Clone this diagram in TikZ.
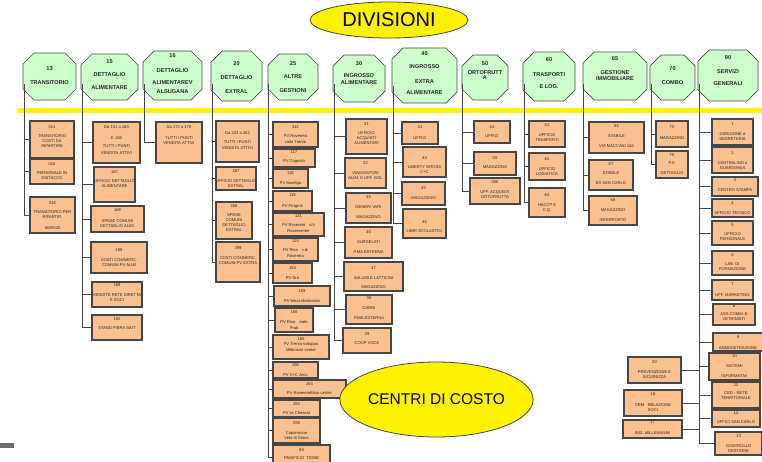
\documentclass[tikz,border=0pt]{standalone}
\usepackage{fontspec}
\setmainfont{Liberation Sans}
\usetikzlibrary{shapes.geometric}
\definecolor{hgreen}{RGB}{204,255,204}
\definecolor{borange}{RGB}{250,192,144}
\definecolor{dgray}{RGB}{70,70,70}
\tikzset{
 hdrst/.style={draw=dgray, line width=0.7, fill=hgreen},
 htxt/.style={align=center, inner sep=0, font={\fontsize{5.6}{12}\selectfont\bfseries}, text=black!85},
 boxst/.style={draw=dgray, line width=1.1, fill=borange, inner sep=0, outer sep=0},
 btxt/.style={align=center, inner sep=0, font={\fontsize{4.1}{5}\selectfont}, text=black!85},
 ln/.style={draw=dgray, line width=0.7},
 ell/.style={ellipse, draw=dgray, line width=0.8, fill=yellow, inner sep=0}
}
% header: name x1 y1 x2 y2 texty text
\newcommand\mkhdr[7]{%
 \filldraw[hdrst] (#2+11,#3) -- (#4-11,#3) -- (#4,#3+11) -- (#4,#5-11) -- (#4-11,#5) -- (#2+11,#5) -- (#2,#5-11) -- (#2,#3+11) -- cycle;
 \node[htxt] (#1) at ({(#2+#4)/2},#6) {#7};}
% box: name x1 y1 x2 y2 texty text
\newcommand\mkbox[7]{%
 \node[boxst, minimum width={#4-#2}, minimum height={#5-#3}] (#1) at ({(#2+#4)/2},{(#3+#5)/2}) {};
 \node[btxt] (#1t) at ({(#2+#4)/2},#6) {#7};}
\begin{document}
\begin{tikzpicture}[x=1pt,y=-1pt]
\useasboundingbox (0,0) rectangle (762,461);
% title ellipses
\node[ell, minimum width=158, minimum height=36] (div) at (389,20) {\fontsize{20}{20}\selectfont DIVISIONI};
% yellow bar
\fill[yellow] (18,108) rectangle (762,113);
% headers
\mkhdr{h13}{23}{53}{76}{100}{76}{13\\[2pt]TRANSITORIO}
\mkhdr{h15}{81}{54}{138}{100}{75}{15\\[1pt]DETTAGLIO\\[1pt]ALIMENTARE}
\mkhdr{h16}{143}{51}{202}{100}{74}{16\\[3pt]DETTAGLIO\\ALIMENTAREV\\[-3pt]ALSUGANA}
\mkhdr{h20}{211}{51}{262}{101}{78}{20\\[2pt]DETTAGLIO\\[2pt]EXTRAL}
\mkhdr{h25}{268}{54}{318}{100}{77.5}{25\\[1pt]ALTRE\\[2pt]GESTIONI}
\mkhdr{h30}{333}{55}{385}{102}{73.5}{30\\INGROSSO\\[-5pt]ALIMENTARE}
\mkhdr{h40}{392}{48}{457}{103}{73.5}{40\\[1pt]INGROSSO\\[3pt]EXTRA\\[-1pt]ALIMENTARE}
\mkhdr{h50}{462}{55}{508}{100}{71}{50\\[-3pt]ORTOFRUTT\\[-7pt]A}
\mkhdr{h60}{523}{52}{575}{101}{73.5}{60\\[3pt]TRASPORTI\\E LOG.}
\mkhdr{h65}{583}{52}{647}{100}{69}{65\\[2pt]GESTIONE\\[-6pt]IMMOBILIARE}
\mkhdr{h70}{650}{55}{695}{100}{76}{70\\[2pt]COMBO}
\mkhdr{h90}{698}{50}{758}{101}{71}{90\\[2pt]SERVIZI\\GENERALI}
% column 13
\mkbox{c014}{30}{121}{74}{158}{136.5}{014\\[4pt]TRANSITORIO\\COSTI DA\\RIPARTIRE}
\mkbox{c015}{30}{159}{74}{184}{171}{015\\[4pt]PERSONALE IN\\DISTACCO}
\mkbox{c016}{30}{197}{75}{233}{215.5}{016\\[4pt]TRANSITORIO PER\\RIPARTIR.\\[6pt]SERVIZI}
% column 15
\mkbox{c15a}{93}{122}{140}{163}{140}{Da 101 a 160\\[6pt]E 198\\[3pt]TUTTI I PUNTI\\[2pt]VENDITA ATTIVI}
\mkbox{c167}{94}{167}{135}{202}{179}{167\\[4pt]UFFICIO DETTAGLIO\\ALIMENTARE}
\mkbox{c168}{91}{206}{144}{232}{218}{168\\[6pt]SPESE COMUNI\\DETTAGLIO ALIM.}
\mkbox{c199}{91}{242}{147}{273}{257.5}{199\\[5pt]COSTI COMMERC.\\COMUNI PV ALIM}
\mkbox{c169}{92}{282}{142}{307}{292.5}{169\\[5pt]VENDITE RETE DIRETTA\\E SOCI}
\mkbox{c192}{92}{315}{142}{340}{323.5}{192\\[4pt]STAND FIERA SAIT}
% column 16
\mkbox{c16a}{156}{122}{202}{163}{135}{Da 172 a 178\\[6pt]TUTTI I PUNTI\\VENDITA ATTIVI}
% column 20
\mkbox{c20a}{216}{121}{259}{162}{140.5}{Da 233 a 262\\[4pt]TUTTI I PUNTI\\[1pt]VENDITA ATTIVI}
\mkbox{c267}{216}{167}{256}{190}{178.5}{267\\[5pt]UFFICIO DETTAGLIO\\EXTRAL}
\mkbox{c268}{216}{202}{252}{239}{218.5}{268\\[4pt]SPESE\\COMUNI\\DETTAGLIO\\EXTRAL}
\mkbox{c299}{216}{242}{260}{282}{255.5}{299\\[5pt]COSTI COMMERC.\\COMUNI PV EXTRA}
% column 25
\mkbox{c112}{273}{122}{318}{147}{134.5}{112\\[4pt]PV Rovereto\\[1pt]viale Trento}
\mkbox{c117}{273}{149}{315}{167}{157.5}{117\\[4pt]PV Cognola}
\mkbox{c118}{273}{169}{308}{188}{178}{118\\[5pt]PV Baselga}
\mkbox{c119}{273}{191}{312}{211}{200.5}{119\\[6pt]PV Pergine}
\mkbox{c121}{273}{213}{324}{236}{223.5}{121\\[4pt]PV Rovereto\quad c/o\\[1pt]Rovercenter}
\mkbox{c124}{273}{238}{318}{261}{248.5}{124\\[4pt]PV Riva\quad v.le\\[1pt]Rovereto}
\mkbox{c153}{273}{263}{312}{283}{273}{153\\[5pt]PV Dro}
\mkbox{c159}{274}{286}{330}{306}{296}{159\\[5pt]PV Mezzolombardo}
\mkbox{c160}{275}{308}{313}{332}{320}{160\\[5pt]PV Riva\quad viale\\[1pt]Prati}
\mkbox{c165}{273}{335}{329}{359}{344.5}{165\\PV Trento sviluppo\\[1pt]Millenium center}
\mkbox{c195}{273}{362}{318}{378}{370}{195\\[5pt]PV C+C Arco}
\mkbox{c264}{273}{380}{346}{398}{388.5}{264\\[4pt]PV RoveretoBrico center}
\mkbox{c265}{273}{400}{320}{417}{408.5}{265\\[4pt]PV ss Chesani}
\mkbox{c298}{273}{418}{320}{443}{430.5}{298\\[5pt]Capannone\\Vela di Giovo}
\mkbox{c88}{273}{445}{330}{470}{454}{88\\[3pt]PANIFICIO\ \ TIONE}
% column 30
\mkbox{c31}{346}{119}{387}{154}{133.5}{31\\[4pt]UFFICIO\\ACQUISTI\\ALIMENTARI}
\mkbox{c32}{345}{158}{386}{188}{170.5}{32\\[5pt]VIAGGIATORI\\ALIM. E UFF. GOL}
\mkbox{c35}{346}{193}{391}{223}{207}{35\\[5pt]GENERI VARI\\[5pt]MAGAZZINO}
\mkbox{c36}{345}{227}{392}{258}{242}{36\\[5pt]SURGELATI\\[5pt]P.MA ESTERNA}
\mkbox{c37}{344}{262}{403}{291}{277.5}{37\\[5pt]SALUMI E LATTICINI\\[4pt]MAGAZZINO}
\mkbox{c38}{346}{295}{392}{324}{308}{38\\[5pt]CARNI\\[5pt]P.MA ESTERNA}
\mkbox{c39}{343}{328}{391}{353}{338.5}{39\\[4pt]COOP VOCE}
% column 40
\mkbox{c41}{402}{122}{438}{144}{132.5}{41\\[6pt]UFFICI}
\mkbox{c44}{403}{147}{446}{177}{165}{44\\[4pt]LIBERTY GROSS\\C+C}
\mkbox{c45}{402}{182}{445}{205}{193}{45\\[5pt]MAGAZZINO}
\mkbox{c46}{403}{209}{446}{238}{226.5}{46\\[4pt]LIBRI SCOLASTICI}
% column 50
\mkbox{c54}{474}{121}{510}{143}{131.5}{54\\[4pt]UFFICI}
\mkbox{c55}{474}{152}{516}{175}{162.5}{55\\[4pt]MAGAZZINO}
\mkbox{c056}{470}{178}{520}{204}{189.5}{056\\[5pt]UFF. ACQUISTI\\ORTOFRUTTA}
% column 60
\mkbox{c61}{529}{121}{565}{147}{132.5}{61\\[5pt]UFFICIO\\TRASPORTI}
\mkbox{c62}{529}{153}{565}{180}{166.5}{62\\[5pt]UFFICIO\\LOGISTICA}
\mkbox{c63}{529}{188}{565}{217}{202.5}{63\\[5pt]HACCP E\\C.Q.}
% column 65
\mkbox{c66}{589}{122}{644}{153}{136}{66\\[5pt]STABILE\\[5pt]VIA MACCANI 162}
\mkbox{c67}{589}{160}{633}{190}{173.5}{67\\[4pt]STABILE\\[5pt]EX SAN CARLO}
\mkbox{c68}{589}{196}{637}{225}{210}{68\\[5pt]MAGAZZINO\\[5pt]INTERPORTO}
% column 70
\mkbox{c75}{656}{121}{688}{147}{132.5}{75\\[6pt]MAGAZZINO}
\mkbox{c78}{656}{151}{688}{178}{164}{78\\[3pt]P.V.\\[5pt]DETTAGLIO}
% column 90
\mkbox{s1}{712}{119}{753}{145}{132}{1\\[5pt]DIREZIONE e\\SEGRETERIA}
\mkbox{s2}{712}{147}{753}{173}{160.5}{2\\[5pt]CENTRALINO e\\GUARDIANIA}
\mkbox{s3}{712}{177}{758}{196}{185}{3\\[5pt]CENTRO STAMPA}
\mkbox{s4}{712}{199}{753}{217}{208}{4\\[5pt]UFFICIO TECNICO}
\mkbox{s5}{712}{221}{753}{245}{232}{5\\[4pt]UFFICIO\\PERSONALE}
\mkbox{s6}{712}{251}{753}{275}{262}{6\\[4pt]LAB. DI\\FORMAZIONE}
\mkbox{s7}{712}{280}{753}{300}{289.5}{7\\[6pt]UFF. MARKETING}
\mkbox{s8}{713}{304}{755}{325}{313}{8\\[3pt]ASS.COMM. E\\VETRINISTI}
\mkbox{s9}{713}{333}{763}{351}{342.5}{9\\[6pt]AMMINISTRAZIONE}
\mkbox{s10}{709}{353}{760}{380}{366}{10\\[5pt]SISTEMI\\[5pt]INFORMATIVI}
\mkbox{s11}{712}{382}{760}{408}{391.5}{11\\[3pt]CED - RETE\\TERRITORIALE}
\mkbox{s12}{712}{410}{760}{427}{417.5}{12\\[4pt]UFFICI SAN CARLO}
\mkbox{s13}{715}{432}{762}{455}{444}{13\\[5pt]CONTROLLO\\GESTIONE}
\mkbox{s20}{628}{357}{681}{383}{369.5}{20\\[5pt]PREVENZIONE E\\SICUREZZA}
\mkbox{s18}{624}{390}{682}{416}{402}{18\\[6pt]CRM\ \ \ RELAZIONE\\SOCI}
\mkbox{s17}{623}{420}{682}{438}{427.5}{17\\[6pt]INIZ. MILLENNIUM}
% trunks
\coordinate (t13) at (24,84);
\coordinate (t15) at (82,84);
\coordinate (t16) at (144,84);
\coordinate (t20) at (212,84);
\coordinate (t25) at (268,84);
\coordinate (t30) at (334,84);
\coordinate (t40) at (393,86);
\coordinate (t50) at (462,84);
\coordinate (t60) at (524,84);
\coordinate (t65) at (583,84);
\coordinate (t70) at (651,84);
\coordinate (t90) at (699,84);
\draw[ln] (t13) |- (c016.west);
\foreach \n in {c014,c015} \draw[ln] (t13 |- \n.west) -- (\n.west);
\draw[ln] (t15) |- (c192.west);
\foreach \n in {c15a,c167,c168,c199,c169} \draw[ln] (t15 |- \n.west) -- (\n.west);
\draw[ln] (t16) |- (c16a.west);
\draw[ln] (t20) |- (c299.west);
\foreach \n in {c20a,c267,c268} \draw[ln] (t20 |- \n.west) -- (\n.west);
\draw[ln] (t25) |- (c88.west);
\foreach \n in {c112,c117,c118,c119,c121,c124,c153,c159,c160,c165,c195,c264,c265,c298} \draw[ln] (t25 |- \n.west) -- (\n.west);
\draw[ln] (t30) |- (c39.west);
\foreach \n in {c31,c32,c35,c36,c37,c38} \draw[ln] (t30 |- \n.west) -- (\n.west);
\draw[ln] (t40) |- (c46.west);
\foreach \n in {c41,c44,c45} \draw[ln] (t40 |- \n.west) -- (\n.west);
\draw[ln] (t50) |- (c056.west);
\foreach \n in {c54,c55} \draw[ln] (t50 |- \n.west) -- (\n.west);
\draw[ln] (t60) |- (c63.west);
\foreach \n in {c61,c62} \draw[ln] (t60 |- \n.west) -- (\n.west);
\draw[ln] (t65) |- (c68.west);
\foreach \n in {c66,c67} \draw[ln] (t65 |- \n.west) -- (\n.west);
\draw[ln] (t70) |- (c78.west);
\draw[ln] (t70 |- c75.west) -- (c75.west);
\draw[ln] (t90) |- (s13.west);
\foreach \n in {s1,s2,s3,s4,s5,s6,s7,s8,s9,s10,s11,s12} \draw[ln] (t90 |- \n.west) -- (\n.west);
\foreach \n in {s20,s18,s17} \draw[ln] (\n.east) -- (t90 |- \n.east);
% centri di costo
\node[ell, minimum width=143, minimum height=75] (cdc) at (436.5,399.5) {\fontsize{15.5}{16}\selectfont CENTRI DI COSTO};
% small mark bottom-left
\fill[dgray!80] (0,443) rectangle (14,448);
\end{tikzpicture}
\end{document}
